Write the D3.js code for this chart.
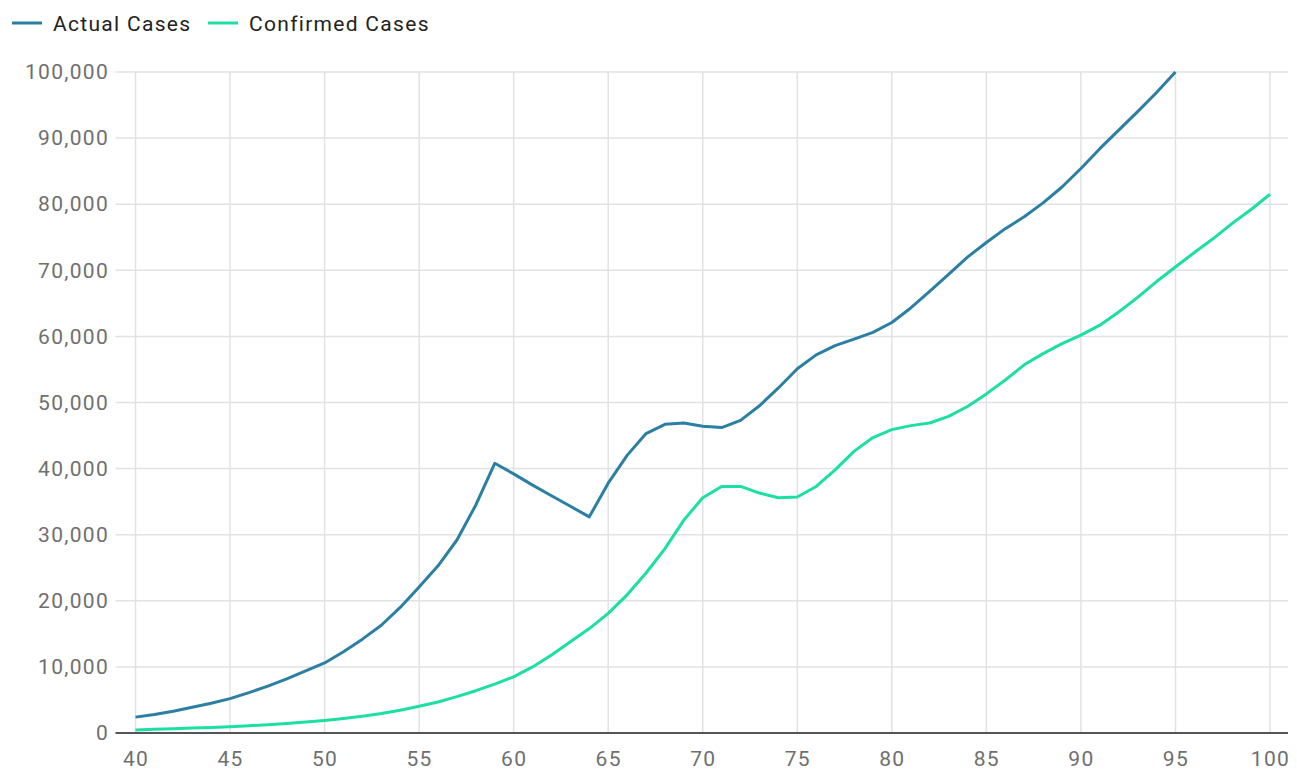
<!DOCTYPE html>
<html>
<head>
<meta charset="utf-8">
<script src="https://cdn.jsdelivr.net/npm/d3@7"></script>
<style>
  body { margin: 0; background: #fff; }
  svg { font-family: Roboto, "Noto Sans", sans-serif; }
</style>
</head>
<body>
<div id="wrapper"></div>
<script>
// data
const days = d3.range(40, 101);
const actualCases = [
  2400, 2800, 3300, 3900, 4500, 5200, 6100, 7100, 8200, 9400,
  10600, 12300, 14200, 16300, 19000, 22100, 25300, 29200, 34500, 40800,
  39200, 37500, 35900, 34300, 32700, 37800, 42000, 45300, 46700, 46900,
  46400, 46200, 47300, 49500, 52200, 55100, 57200, 58600, 59600, 60600,
  62100, 64300, 66800, 69400, 72000, 74200, 76300, 78100, 80200, 82600,
  85400, 88400, 91200, 94000, 96900, 100000
];
const confirmedCases = [
  450, 550, 650, 750, 850, 950, 1100, 1250, 1450, 1650,
  1900, 2200, 2550, 2950, 3450, 4050, 4700, 5500, 6400, 7400,
  8500, 10000, 11800, 13800, 15800, 18100, 20900, 24200, 27900, 32200,
  35600, 37300, 37300, 36300, 35600, 35700, 37300, 39800, 42600, 44700,
  45900, 46500, 46900, 47900, 49400, 51300, 53400, 55700, 57400, 58900,
  60200, 61700, 63700, 65900, 68300, 70500, 72700, 74800, 77100, 79200, 81500
];
const xTicks = d3.range(40, 101, 5);
const yTicks = d3.range(0, 100001, 10000);
const seriesNames = ["Actual Cases", "Confirmed Cases"];
const seriesColors = ["#2b7fa2", "#1cdfa2"];

const width = 1297, height = 772;

const svg = d3.select("#wrapper").append("svg")
  .attr("width", width)
  .attr("height", height);

const xScale = d3.scaleLinear().domain([40, 100]).range([135.5, 1270]);
const yScale = d3.scaleLinear().domain([0, 100000]).range([733, 72]);

const gridLeft = xScale.range()[0] - 20;
const gridRight = xScale.range()[1] + 18;

// grid
const grid = svg.append("g").attr("class", "grid");
grid.selectAll(".hgrid").data(yTicks.filter(d => d > 0)).join("line")
  .attr("x1", gridLeft).attr("x2", gridRight)
  .attr("y1", d => yScale(d)).attr("y2", d => yScale(d))
  .attr("stroke", "#e2e2e2").attr("stroke-width", 1.5);
grid.selectAll(".vgrid").data(xTicks).join("line")
  .attr("x1", d => xScale(d)).attr("x2", d => xScale(d))
  .attr("y1", yScale(100000)).attr("y2", yScale(0))
  .attr("stroke", "#e2e2e2").attr("stroke-width", 1.5);

// y labels
const yAxis = d3.axisLeft(yScale).tickValues(yTicks).tickSize(0).tickPadding(0)
  .tickFormat(d3.format(","));
svg.append("g").attr("class", "y-axis")
  .attr("transform", "translate(109,0)")
  .call(yAxis)
  .call(g => g.select(".domain").remove())
  .selectAll("text")
  .attr("fill", "#6f6f6f")
  .style("font-size", "21px")
  .style("letter-spacing", "1.3px")
  .style("font-family", "Roboto, sans-serif");

// x labels
const xAxis = d3.axisBottom(xScale).tickValues(xTicks).tickSize(0).tickPadding(0);
svg.append("g").attr("class", "x-axis")
  .attr("transform", "translate(0,751)")
  .call(xAxis)
  .call(g => g.select(".domain").remove())
  .selectAll("text")
  .attr("dy", "0.71em")
  .attr("fill", "#6f6f6f")
  .style("font-size", "21px")
  .style("letter-spacing", "1.3px")
  .style("font-family", "Roboto, sans-serif");

// baseline
svg.append("line")
  .attr("x1", gridLeft).attr("x2", gridRight)
  .attr("y1", yScale(0)).attr("y2", yScale(0))
  .attr("stroke", "#555").attr("stroke-width", 2);

// lines
const lineGenerator = d3.line()
  .x((d, i) => xScale(days[i]))
  .y(d => yScale(d));

[actualCases, confirmedCases].forEach((values, i) => {
  svg.append("path")
    .attr("d", lineGenerator(values))
    .attr("fill", "none")
    .attr("stroke", seriesColors[i])
    .attr("stroke-width", 3)
    .attr("stroke-linejoin", "round");
});

// legend
const legendX = [12, 208];
const legend = svg.append("g").attr("class", "legend");
seriesNames.forEach((name, i) => {
  legend.append("line")
    .attr("x1", legendX[i]).attr("x2", legendX[i] + 30)
    .attr("y1", 23).attr("y2", 23)
    .attr("stroke", seriesColors[i]).attr("stroke-width", 3);
  legend.append("text")
    .attr("x", legendX[i] + 41).attr("y", 31)
    .attr("fill", "#222")
    .style("font-size", "21px")
    .style("letter-spacing", "1.3px")
    .text(name);
});
</script>
</body>
</html>
